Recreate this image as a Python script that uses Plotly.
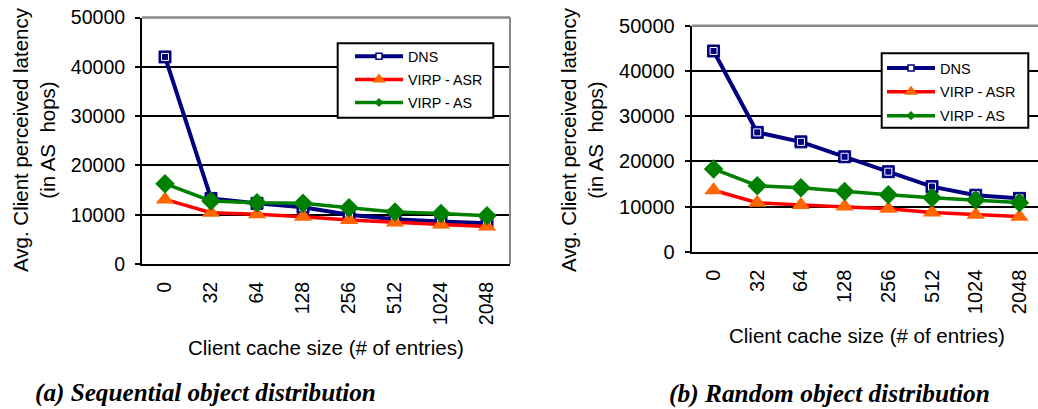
import plotly.graph_objects as go

W, H = 1038, 409

categories = ["0", "32", "64", "128", "256", "512", "1024", "2048"]
series_names = ["DNS", "VIRP - ASR", "VIRP - AS"]

# (a) Sequential object distribution
seq_dns = [42000, 13300, 12300, 11500, 10000, 9100, 8600, 8250]
seq_asr = [13100, 10400, 10100, 9600, 8900, 8400, 8000, 7600]
seq_as = [16300, 12800, 12400, 12300, 11400, 10550, 10250, 9800]

# (b) Random object distribution
rnd_dns = [44400, 26400, 24300, 21000, 17700, 14400, 12500, 11800]
rnd_asr = [13600, 10850, 10350, 10000, 9500, 8650, 8150, 7750]
rnd_as = [18300, 14600, 14150, 13300, 12600, 11950, 11450, 10850]

y_ticks = [0, 10000, 20000, 30000, 40000, 50000]
y_tick_labels = ["0", "10000", "20000", "30000", "40000", "50000"]

y_title = "Avg. Client perceived latency<br>(in AS\u00a0 hops)"
x_title = "Client cache size (# of entries)"
captions = ["(a) Sequential object distribution", "(b) Random object distribution"]

NAVY, RED, ORANGE, GREEN = "#000080", "#FF0000", "#FF6600", "#008000"
FONT = "Arial, 'Liberation Sans', sans-serif"
SERIF = "'Times New Roman', 'Liberation Serif', serif"


def px(x):
    return x / W


def py(y):
    return 1 - y / H


fig = go.Figure()

panels = [
    dict(xa="x", ya="y", legend="legend", tag="a", data=[seq_dns, seq_asr, seq_as]),
    dict(xa="x2", ya="y2", legend="legend2", tag="b", data=[rnd_dns, rnd_asr, rnd_as]),
]

for p in panels:
    dns, asr, as_ = p["data"]
    # DNS
    fig.add_trace(go.Scatter(x=categories, y=dns, xaxis=p["xa"], yaxis=p["ya"], mode="lines+markers",
                             line=dict(color=NAVY, width=4),
                             marker=dict(symbol="square", size=12, color=NAVY, line=dict(color=NAVY, width=1)),
                             showlegend=False, hoverinfo="skip"))
    fig.add_trace(go.Scatter(x=categories, y=dns, xaxis=p["xa"], yaxis=p["ya"], mode="markers",
                             marker=dict(symbol="square-open", size=7, color="white", line=dict(color="white", width=1)),
                             showlegend=False, hoverinfo="skip"))
    # VIRP - ASR
    fig.add_trace(go.Scatter(x=categories, y=asr, xaxis=p["xa"], yaxis=p["ya"], mode="lines+markers",
                             line=dict(color=RED, width=3.5),
                             marker=dict(symbol="triangle-up", size=16, color=ORANGE, line=dict(width=0)),
                             showlegend=False, hoverinfo="skip"))
    # VIRP - AS
    fig.add_trace(go.Scatter(x=categories, y=as_, xaxis=p["xa"], yaxis=p["ya"], mode="lines+markers",
                             line=dict(color=GREEN, width=3.5),
                             marker=dict(symbol="diamond", size=15, color=GREEN, line=dict(width=0)),
                             showlegend=False, hoverinfo="skip"))
    # legend entries
    fig.add_trace(go.Scatter(x=[None], y=[None], xaxis=p["xa"], yaxis=p["ya"], mode="lines+markers",
                             name=series_names[0], legend=p["legend"], legendgroup=p["tag"] + "0",
                             line=dict(color=NAVY, width=4),
                             marker=dict(symbol="square", size=6, color="white", line=dict(color=NAVY, width=1.5))))
    fig.add_trace(go.Scatter(x=[None], y=[None], xaxis=p["xa"], yaxis=p["ya"], mode="lines+markers",
                             name=series_names[1], legend=p["legend"], legendgroup=p["tag"] + "1",
                             line=dict(color=RED, width=3.5),
                             marker=dict(symbol="triangle-up", size=12, color=ORANGE)))
    fig.add_trace(go.Scatter(x=[None], y=[None], xaxis=p["xa"], yaxis=p["ya"], mode="lines+markers",
                             name=series_names[2], legend=p["legend"], legendgroup=p["tag"] + "2",
                             line=dict(color=GREEN, width=3.5),
                             marker=dict(symbol="diamond", size=7, color=GREEN)))

common_y = dict(range=[0, 50000], tickvals=y_ticks, ticktext=y_tick_labels,
                showline=True, linecolor="black", linewidth=2,
                ticks="outside", ticklen=5, tickwidth=2, tickcolor="black",
                showgrid=True, gridcolor="black", gridwidth=1.5,
                zeroline=False, ticklabelstandoff=6, fixedrange=True, automargin=False)
common_x = dict(type="category", categoryorder="array", categoryarray=categories,
                showline=True, linecolor="black", linewidth=2, ticks="",
                tickangle=-90, showgrid=False, zeroline=False, ticklabelstandoff=8,
                fixedrange=True, automargin=False)

fig.update_layout(
    width=W, height=H, margin=dict(l=0, r=0, t=0, b=0, autoexpand=False),
    paper_bgcolor="white", plot_bgcolor="white",
    font=dict(family=FONT, color="black"),
    xaxis=dict(common_x, domain=[px(142), px(510)], range=[-0.5, 7.5], anchor="y",
               tickfont=dict(size=19.5)),
    yaxis=dict(common_y, domain=[py(264), py(17.5)], anchor="x", tickfont=dict(size=19.5)),
    xaxis2=dict(common_x, domain=[px(691.7), 1.0], range=[-0.5, 7.425], anchor="y2",
                tickfont=dict(size=20)),
    yaxis2=dict(common_y, domain=[py(251.7), py(25.7)], anchor="x2", tickfont=dict(size=20)),
    legend=dict(x=px(350), y=py(40.5), xanchor="left", yanchor="top", bgcolor="rgba(0,0,0,0)",
                borderwidth=0, font=dict(size=14.3), itemwidth=48, tracegroupgap=1.5),
    legend2=dict(x=px(882), y=py(52), xanchor="left", yanchor="top", bgcolor="rgba(0,0,0,0)",
                 borderwidth=0, font=dict(size=14.5), itemwidth=48, tracegroupgap=2),
    showlegend=True,
)

shapes = [
    # left panel gray frame (top and right)
    dict(type="line", xref="x domain", yref="y domain", x0=0, x1=1, y0=1, y1=1,
         line=dict(color="#888888", width=2.5), layer="above"),
    dict(type="line", xref="x domain", yref="y domain", x0=1, x1=1, y0=0, y1=1,
         line=dict(color="#888888", width=2), layer="above"),
    # right panel gray top
    dict(type="line", xref="x2 domain", yref="y2 domain", x0=0, x1=1, y0=1, y1=1,
         line=dict(color="#888888", width=2.5), layer="above"),
    # legend boxes
    dict(type="rect", xref="paper", yref="paper", x0=px(337.7), x1=px(493.3), y0=py(117.7), y1=py(43.3),
         line=dict(color="black", width=2), fillcolor="white", layer="above"),
    dict(type="rect", xref="paper", yref="paper", x0=px(881.7), x1=px(1028.3), y0=py(127.7), y1=py(53.3),
         line=dict(color="black", width=2), fillcolor="white", layer="above"),
]
fig.update_layout(shapes=shapes)

annotations = [
    dict(text=y_title, x=px(34), y=py(140), textangle=-90, font=dict(size=20.5)),
    dict(text=y_title, x=px(582), y=py(140), textangle=-90, font=dict(size=20.5)),
    dict(text=x_title, x=px(326), y=py(347.5), font=dict(size=20.5)),
    dict(text=x_title, x=px(867), y=py(335), font=dict(size=20.5)),
    dict(text="<b><i>" + captions[0] + "</i></b>", x=px(205.5), y=py(393), font=dict(size=25.2, family=SERIF)),
    dict(text="<b><i>" + captions[1] + "</i></b>", x=px(829), y=py(393), font=dict(size=25.4, family=SERIF)),
]
for a in annotations:
    a.update(xref="paper", yref="paper", xanchor="center", yanchor="middle", showarrow=False)
fig.update_layout(annotations=annotations)

fig.write_html("out.html", config=dict(displayModeBar=False),
               post_script="document.body.style.margin='0';document.body.style.padding='0';")
